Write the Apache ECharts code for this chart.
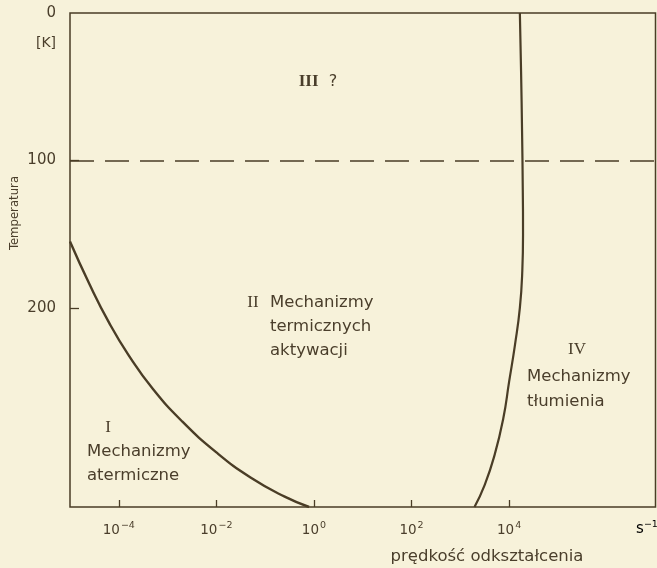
<!DOCTYPE html>
<html>
<head>
<meta charset="utf-8">
<script src="https://cdn.jsdelivr.net/npm/echarts@6/dist/echarts.min.js"></script>
<style>
html,body{margin:0;padding:0;background:#f7f2da;}
#chart{width:657px;height:568px;}
</style>
</head>
<body>
<div id="chart"></div>
<script>
// log10 of strain rate [s^-1] and temperature [K]
const xTickExponents = [-4, -2, 0, 2, 4];
const yTickLabels = [0, 100, 200];
const yTickMarks = [100, 200];
// boundary I / II (athermal vs thermally activated)
const leftBoundaryRate = [-5.0, -4.6, -4.2, -3.8, -3.3, -2.7, -2.0, -1.3, -0.6, -0.1];
const leftBoundaryTemp = [155, 184, 210, 232, 255, 277, 298, 315, 328, 335];
// boundary II / IV (thermally activated vs damping)
const rightBoundaryRate = [4.22, 4.245, 4.265, 4.28, 4.285, 4.27, 4.22, 4.12, 4.00, 3.88, 3.70, 3.50, 3.29];
const rightBoundaryTemp = [0, 40, 80, 120, 150, 175, 200, 225, 250, 275, 300, 320, 335];
// boundary of region III (dashed)
const dashedTemp = 100;

const ink = '#4a3d26';
const textInk = '#4a3e2b';
const font = 'DejaVu Sans';

const chart = echarts.init(document.getElementById('chart'), null, {renderer: 'canvas'});
chart.setOption({
  backgroundColor: '#f7f2da',
  animation: false,
  grid: {left: 70, top: 13, right: 1.5, bottom: 61, show: true, borderColor: ink, borderWidth: 1.5, backgroundColor: 'transparent'},
  xAxis: {
    type: 'value', min: -5, max: 7, interval: 1,
    axisLine: {show: false, onZero: false},
    splitLine: {show: false},
    axisTick: {show: true, inside: true, length: 7, lineStyle: {color: ink, width: 1.3}, customValues: xTickExponents},
    axisLabel: {
      margin: 14, color: textInk, customValues: xTickExponents,
      formatter: v => '{b|10}{s|' + (v < 0 ? '−' + (-v) : v) + '}',
      rich: {
        b: {fontSize: 13.5, fontFamily: font, color: textInk},
        s: {fontSize: 9.5, fontFamily: font, color: textInk, verticalAlign: 'top', padding: [0, 0, 8, 1]}
      }
    }
  },
  yAxis: {
    type: 'value', inverse: true, min: 0, max: 335, interval: 100,
    axisLine: {show: false, onZero: false},
    splitLine: {show: false},
    axisTick: {show: true, inside: true, length: 9, lineStyle: {color: ink, width: 1.3}, customValues: yTickMarks},
    axisLabel: {margin: 14, color: textInk, fontSize: 15, fontFamily: font, customValues: yTickLabels}
  },
  series: [
    {
      type: 'line', smooth: 0.5, showSymbol: false, symbol: 'none',
      lineStyle: {color: ink, width: 2.4},
      data: leftBoundaryRate.map((r, i) => [r, leftBoundaryTemp[i]]),
      markLine: {
        silent: true, symbol: 'none', label: {show: false},
        lineStyle: {color: ink, width: 1.5, type: [24, 11]},
        data: [{yAxis: dashedTemp}]
      }
    },
    {
      type: 'line', smooth: 0.5, showSymbol: false, symbol: 'none',
      lineStyle: {color: ink, width: 2.2},
      data: rightBoundaryRate.map((r, i) => [r, rightBoundaryTemp[i]])
    }
  ],
  graphic: [
    {type: 'text', x: 46, y: 43, style: {text: '[K]', fontSize: 14, fontFamily: font, fill: textInk, align: 'center', verticalAlign: 'middle'}},
    {type: 'text', x: 15, y: 213, rotation: Math.PI / 2, style: {text: 'Temperatura', fontSize: 13, fontFamily: 'DejaVu Sans Condensed', fill: textInk, align: 'center', verticalAlign: 'middle'}},
    {type: 'text', x: 647, y: 529, style: {text: '{b|s}{s|−1}', align: 'center', verticalAlign: 'middle',
      rich: {b: {fontSize: 15, fontFamily: font, color: textInk}, s: {fontSize: 9.5, fontFamily: font, color: textInk, verticalAlign: 'top', padding: [0, 0, 8, 0]}}}},
    {type: 'text', x: 487, y: 557, style: {text: 'prędkość odkształcenia', fontSize: 16.5, fontFamily: font, fill: textInk, align: 'center', verticalAlign: 'middle'}},
    {type: 'text', x: 318, y: 82, style: {text: '{r|III}  ?', fontSize: 16, fontFamily: font, fill: textInk, align: 'center', verticalAlign: 'middle',
      rich: {r: {fontSize: 17, fontFamily: 'Liberation Serif', fontWeight: 'bold', color: textInk}}}},
    {type: 'text', x: 253, y: 303, style: {text: 'II', fontSize: 17, fontFamily: 'Liberation Serif', fill: textInk, align: 'center', verticalAlign: 'middle'}},
    {type: 'text', x: 270, y: 291, style: {text: 'Mechanizmy\ntermicznych\naktywacji', fontSize: 16.5, lineHeight: 24, fontFamily: font, fill: textInk, align: 'left', verticalAlign: 'top'}},
    {type: 'text', x: 108, y: 428, style: {text: 'I', fontSize: 17, fontFamily: 'Liberation Serif', fill: textInk, align: 'center', verticalAlign: 'middle'}},
    {type: 'text', x: 87, y: 440, style: {text: 'Mechanizmy\natermiczne', fontSize: 16.5, lineHeight: 23.5, fontFamily: font, fill: textInk, align: 'left', verticalAlign: 'top'}},
    {type: 'text', x: 577, y: 350, style: {text: 'IV', fontSize: 17, fontFamily: 'Liberation Serif', fill: textInk, align: 'center', verticalAlign: 'middle'}},
    {type: 'text', x: 527, y: 364.5, style: {text: 'Mechanizmy\ntłumienia', fontSize: 16.5, lineHeight: 25, fontFamily: font, fill: textInk, align: 'left', verticalAlign: 'top'}}
  ]
});
</script>
</body>
</html>
